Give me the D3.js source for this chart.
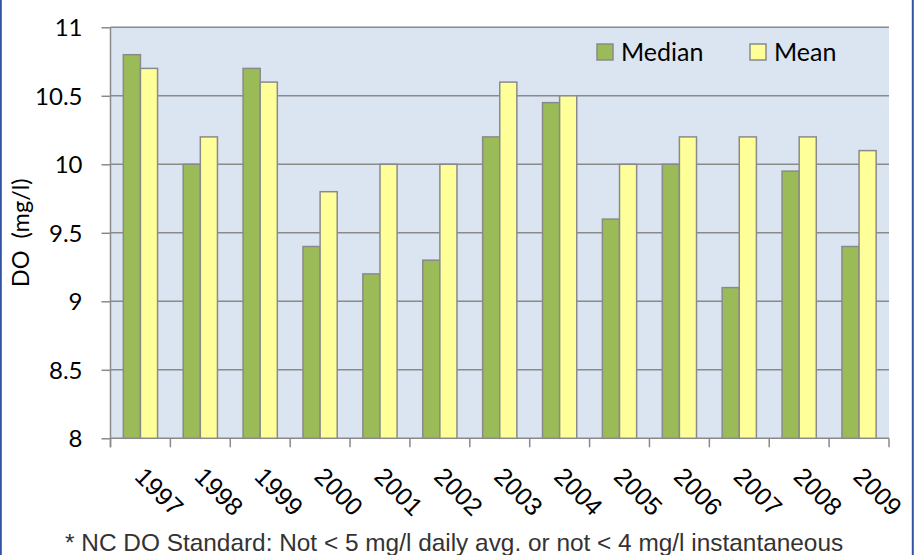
<!DOCTYPE html>
<html>
<head>
<meta charset="utf-8">
<script src="https://cdn.jsdelivr.net/npm/d3@7"></script>
<style>
  html, body { margin: 0; padding: 0; background: #ffffff; }
  svg { display: block; }
</style>
</head>
<body>
<svg id="chart" width="920" height="555"></svg>
<script>
// Dissolved oxygen by year (mg/l)
const years   = ["1997","1998","1999","2000","2001","2002","2003","2004","2005","2006","2007","2008","2009"];
const medians = [10.8, 10.0, 10.7, 9.4, 9.2, 9.3, 10.2, 10.45, 9.6, 10.0, 9.1, 9.95, 9.4];
const means   = [10.7, 10.2, 10.6, 9.8, 10.0, 10.0, 10.6, 10.5, 10.0, 10.2, 10.2, 10.2, 10.1];
const seriesNames = ["Median", "Mean"];
const seriesColors = ["#9bbb59", "#ffff99"];
const yTicks = [8, 8.5, 9, 9.5, 10, 10.5, 11];
const footnote = "* NC DO Standard: Not < 5 mg/l daily avg. or not < 4 mg/l instantaneous";

const svg = d3.select("#chart");
const plot = { left: 110.5, right: 889, top: 27.3, bottom: 438.3 };
const gridColor = "#8a8a8a";
const calibriLike = "Lato, Carlito, Calibri, sans-serif";
const arialLike = "'Liberation Sans', Arial, sans-serif";

const x = d3.scaleBand().domain(years).range([plot.left, plot.right]).padding(0);
const xs = d3.scaleBand().domain(seriesNames).range([0, x.bandwidth()]).paddingInner(0).paddingOuter(0.75);
const y = d3.scaleLinear().domain([8, 11]).range([plot.bottom, plot.top]);

// blue side rules of the frame
svg.append("line").attr("x1", 0.8).attr("x2", 0.8).attr("y1", 0).attr("y2", 555)
  .attr("stroke", "#3152a2").attr("stroke-width", 2);
svg.append("line").attr("x1", 912.8).attr("x2", 912.8).attr("y1", 0).attr("y2", 555)
  .attr("stroke", "#3152a2").attr("stroke-width", 2);

// plot background
svg.append("rect")
  .attr("x", plot.left).attr("y", plot.top)
  .attr("width", plot.right - plot.left).attr("height", plot.bottom - plot.top)
  .attr("fill", "#dbe5f1");

// horizontal gridlines
svg.append("g").selectAll("line").data(yTicks.filter(t => t > 8)).join("line")
  .attr("x1", plot.left).attr("x2", plot.right)
  .attr("y1", d => y(d)).attr("y2", d => y(d))
  .attr("stroke", gridColor).attr("stroke-width", 1.5);

// y axis
const yAxis = svg.append("g")
  .attr("transform", `translate(${plot.left},0)`)
  .call(d3.axisLeft(y).tickValues(yTicks).tickSize(9).tickPadding(19).tickFormat(d3.format("")));
yAxis.select(".domain").attr("stroke", gridColor).attr("stroke-width", 1.5)
  .attr("d", `M0,${plot.top}V${plot.bottom + 9}`);
yAxis.selectAll(".tick line").attr("stroke", gridColor).attr("stroke-width", 1.5);
yAxis.selectAll(".tick text")
  .attr("font-family", calibriLike).attr("font-size", 24).attr("fill", "#000")
  .attr("dy", "0.36em");

// x axis: ticks on category boundaries
const xAxisG = svg.append("g");
xAxisG.append("line").attr("x1", plot.left).attr("x2", plot.right)
  .attr("y1", plot.bottom).attr("y2", plot.bottom)
  .attr("stroke", gridColor).attr("stroke-width", 1.5);
const boundaries = years.map(d => x(d)).concat([plot.right]);
xAxisG.selectAll("line.tk").data(boundaries).join("line").attr("class", "tk")
  .attr("x1", d => d).attr("x2", d => d)
  .attr("y1", plot.bottom).attr("y2", plot.bottom + 9)
  .attr("stroke", gridColor).attr("stroke-width", 1.5);
xAxisG.selectAll("text").data(years).join("text")
  .attr("transform", d => `translate(${x(d) + x.bandwidth() / 2 - 7},478) rotate(45)`)
  .attr("font-family", arialLike).attr("font-size", 25).attr("fill", "#000")
  .text(d => d);

// bars
const rows = years.map((yr, i) => ({ year: yr, values: [medians[i], means[i]] }));
const groups = svg.append("g").selectAll("g").data(rows).join("g")
  .attr("transform", d => `translate(${x(d.year)},0)`);
groups.selectAll("rect").data(d => d.values.map((v, j) => ({ name: seriesNames[j], v, j })))
  .join("rect")
  .attr("x", d => xs(d.name))
  .attr("width", xs.bandwidth())
  .attr("y", d => y(d.v))
  .attr("height", d => y(8) - y(d.v))
  .attr("fill", d => seriesColors[d.j])
  .attr("stroke", "#8a8a8a").attr("stroke-width", 1.5);

// legend
const legendX = [597, 750];
const lg = svg.append("g").selectAll("g").data(seriesNames).join("g")
  .attr("transform", (d, i) => `translate(${legendX[i]},44)`);
lg.append("rect").attr("width", 16).attr("height", 16)
  .attr("fill", (d, i) => seriesColors[i]).attr("stroke", "#8a8a8a").attr("stroke-width", 1.5);
lg.append("text").attr("x", 24).attr("y", 16.5)
  .attr("font-family", calibriLike).attr("font-size", 25).attr("fill", "#000")
  .text(d => d);

// y axis title
svg.append("text")
  .attr("transform", `translate(28.5,${(plot.top + plot.bottom) / 2}) rotate(-90)`)
  .attr("text-anchor", "middle")
  .attr("font-family", calibriLike).attr("font-size", 23.5).attr("fill", "#000")
  .attr("xml:space", "preserve")
  .text("DO  (mg/l)");

// footnote
svg.append("text")
  .attr("x", 65).attr("y", 551)
  .attr("font-family", arialLike).attr("font-size", 24.4).attr("fill", "#333")
  .text(footnote);
</script>
</body>
</html>
